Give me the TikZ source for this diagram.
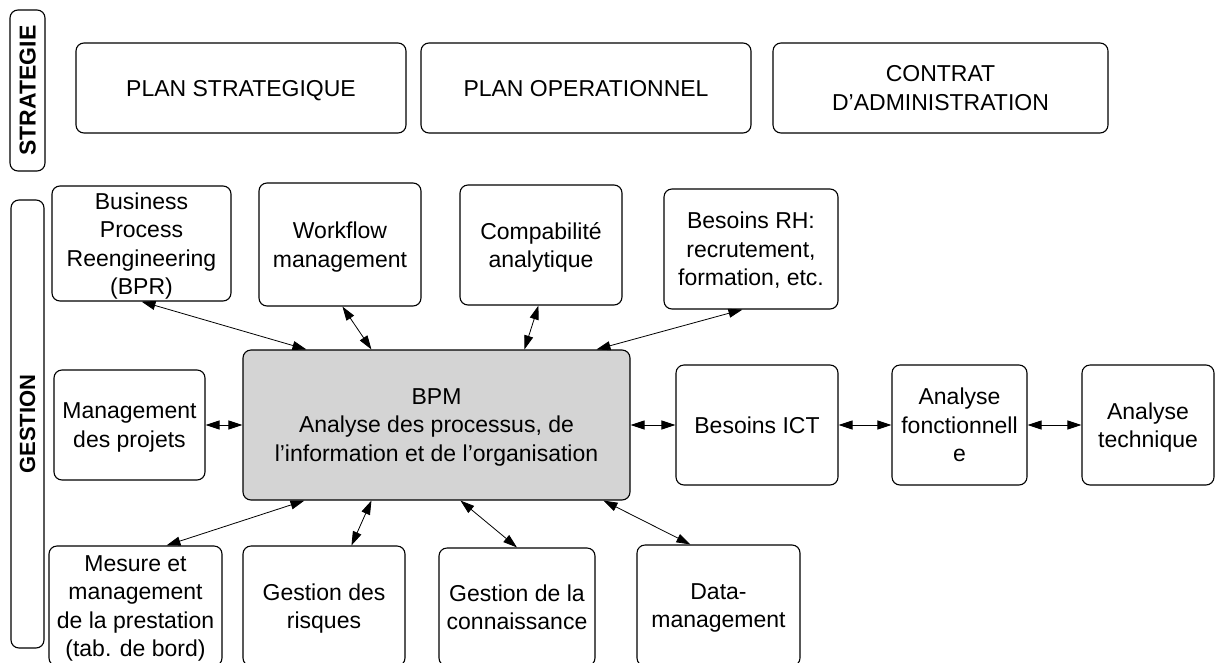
\documentclass[tikz,border=0pt]{standalone}
\usepackage{fontspec}
\setmainfont{Liberation Sans}
\usetikzlibrary{arrows.meta,calc}
\tikzset{
  box/.style={draw, line width=1.1pt, rounded corners=8pt, align=center, inner sep=0pt, fill=white, text depth=0pt},
  conn/.style={{Triangle[length=14pt,width=9pt]}-{Triangle[length=14pt,width=9pt]}, line width=0.8pt},
}
\begin{document}
\begin{tikzpicture}[x=1pt,y=-1pt, font=\fontsize{23}{28.5}\selectfont]
\path[use as bounding box, clip] (0,0) rectangle (1215,662);
% side labels
\node[box, rotate=90, minimum width=161pt, minimum height=35pt, font=\fontsize{23}{28}\selectfont\bfseries] (strat) at (27.5,90.5) {STRATEGIE};
\node[box, rotate=90, minimum width=448pt, minimum height=33pt, font=\fontsize{22}{28}\selectfont\bfseries] (gest) at (27.5,424) {GESTION};
% strategy
\node[box, minimum width=330pt, minimum height=90pt] (ps) at (241,88) {PLAN STRATEGIQUE};
\node[box, minimum width=330pt, minimum height=90pt] (po) at (586,88) {PLAN OPERATIONNEL};
\node[box, minimum width=335pt, minimum height=90pt] (ca) at (940.5,88) {CONTRAT\\D’ADMINISTRATION};
% top row
\node[box, minimum width=179pt, minimum height=115pt] (bpr) at (141.5,243.5) {Business\\Process\\Reengineering\\(BPR)};
\node[box, minimum width=162pt, minimum height=123pt] (wf) at (340,244.5) {Workflow\\management};
\node[box, minimum width=162pt, minimum height=120pt] (cp) at (541,245) {Compabilité\\analytique};
\node[box, minimum width=174pt, minimum height=120pt] (rh) at (751,249) {Besoins RH:\\recrutement,\\formation, etc.};
% middle row
\node[box, minimum width=151pt, minimum height=110pt] (mp) at (129.5,425) {Management\\des projets};
\node[box, fill=black!17, minimum width=387pt, minimum height=150pt] (bpm) at (436.5,425) {BPM\\Analyse des processus, de\\l’information et de l’organisation};
\node[box, minimum width=162pt, minimum height=120pt] (ict) at (757,425) {Besoins ICT};
\node[box, minimum width=135pt, minimum height=120pt] (af) at (959.5,425) {Analyse\\fonctionnell\\e};
\node[box, minimum width=132pt, minimum height=120pt] (at) at (1148,425) {Analyse\\technique};
% bottom row
\node[box, minimum width=173pt, minimum height=120pt] (mes) at (135.5,606) {Mesure et\\management\\de la prestation\\(tab. de bord)};
\node[box, minimum width=162pt, minimum height=120pt] (gr) at (324,606) {Gestion des\\risques};
\node[box, minimum width=156pt, minimum height=118pt] (gc) at (517,607) {Gestion de la\\connaissance};
\node[box, minimum width=163pt, minimum height=121pt] (dm) at (718.5,605.5) {Data-\\management};
% connectors
\draw[conn] (bpr.south) -- ($(bpm.north west)+(64,0)$);
\draw[conn] ($(wf.south west)+(84,0)$) -- ($(bpm.north west)+(129,0)$);
\draw[conn] ($(cp.south west)+(79,0)$) -- ($(bpm.north west)+(282,0)$);
\draw[conn] ($(rh.south west)+(79,0)$) -- ($(bpm.north west)+(354,0)$);
\draw[conn] (mp.east) -- (bpm.west);
\draw[conn] (bpm.east) -- (ict.west);
\draw[conn] (ict.east) -- (af.west);
\draw[conn] (af.east) -- (at.west);
\draw[conn] ($(mes.north west)+(118,0)$) -- ($(bpm.south west)+(62,0)$);
\draw[conn] ($(gr.north west)+(109,0)$) -- ($(bpm.south west)+(129,0)$);
\draw[conn] (gc.north) -- ($(bpm.south west)+(218,0)$);
\draw[conn] ($(dm.north west)+(54,0)$) -- ($(bpm.south west)+(361,0)$);
\end{tikzpicture}
\end{document}
